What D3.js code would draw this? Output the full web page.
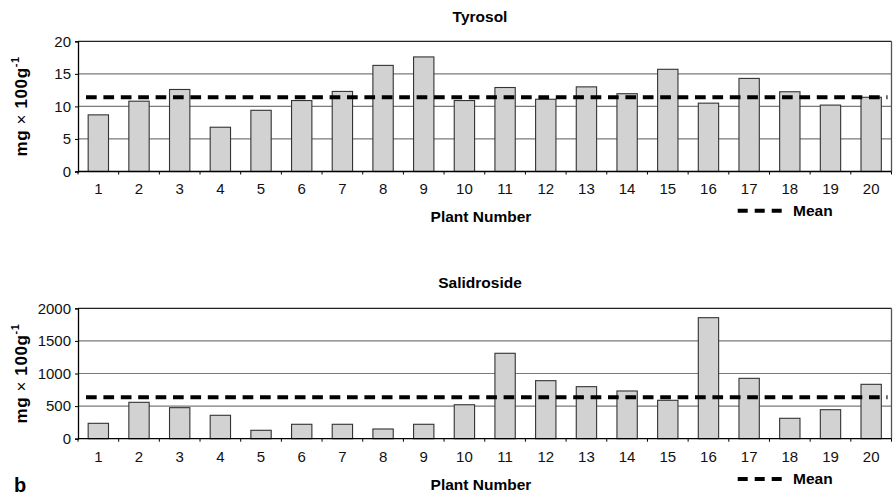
<!DOCTYPE html>
<html><head><meta charset="utf-8">
<script src="https://cdn.jsdelivr.net/npm/d3@7"></script>
<style>body{margin:0;background:#fff}svg{display:block;font-family:"Liberation Sans",Arial,sans-serif}</style>
</head><body>
<script>
const plants = ["1","2","3","4","5","6","7","8","9","10","11","12","13","14","15","16","17","18","19","20"];
const tyrosol = [8.7,10.8,12.6,6.8,9.4,10.9,12.3,16.3,17.6,10.9,12.9,11.1,13.0,11.95,15.7,10.5,14.3,12.25,10.2,11.4];
const tyrosolMean = 11.4;
const tyrosolTicks = [0,5,10,15,20];
const salidroside = [236,558,476,359,129,221,221,149,221,521,1310,890,798,732,589,1856,926,313,445,834];
const salidrosideMean = 635;
const salidrosideTicks = [0,500,1000,1500,2000];

const W = 893, H = 496;
const FONT = "Liberation Sans, Arial, sans-serif";
const svg = d3.select("body").append("svg").attr("width", W).attr("height", H);

function panel(opts) {
  const {title, values, mean, ticks, top, bottom, titleY, xLabelY, legendY, tickLabelY} = opts;
  const left = 78, right = 891.5;
  const x = d3.scaleBand().domain(plants).range([left, right]).paddingInner(0.5).paddingOuter(0.25);
  const y = d3.scaleLinear().domain([0, ticks[ticks.length-1]]).range([bottom, top]);
  const g = svg.append("g");
  g.selectAll(".grid").data(ticks.slice(1, -1)).join("line")
    .attr("x1", left).attr("x2", right).attr("y1", d => y(d)).attr("y2", d => y(d))
    .attr("stroke", "#7a7a7a").attr("stroke-width", 1.2);
  g.append("line").attr("x1", left).attr("x2", right).attr("y1", y(ticks[ticks.length-1])).attr("y2", y(ticks[ticks.length-1])).attr("stroke", "#222").attr("stroke-width", 1.3);
  g.append("line").attr("x1", right).attr("x2", right).attr("y1", top).attr("y2", bottom).attr("stroke", "#555").attr("stroke-width", 1.3);
  g.selectAll(".bar").data(values).join("rect")
    .attr("x", (d,i) => x(plants[i])).attr("width", x.bandwidth())
    .attr("y", d => y(d)).attr("height", d => bottom - y(d))
    .attr("fill", "#d2d2d2").attr("stroke", "#333").attr("stroke-width", 1.1);
  g.append("line").attr("x1", left + 8).attr("x2", right - 4).attr("y1", y(mean)).attr("y2", y(mean))
    .attr("stroke", "#000").attr("stroke-width", 4).attr("stroke-dasharray", "10.7,6.7");
  const ya = g.append("g").attr("transform", `translate(${left},0)`)
    .call(d3.axisLeft(y).tickValues(ticks).tickFormat(d3.format("d")).tickSize(3).tickPadding(4));
  ya.select(".domain").attr("stroke", "#000").attr("stroke-width", 1.3);
  ya.selectAll("text").attr("font-size", 15).attr("fill", "#111").attr("font-family", FONT);
  const xa = g.append("g").attr("transform", `translate(0,${bottom})`)
    .call(d3.axisBottom(x).tickSize(0).tickPadding(0));
  xa.select(".domain").remove();
  xa.append("line").attr("x1", left).attr("x2", right).attr("stroke", "#000").attr("stroke-width", 1.3);
  xa.selectAll(".tick text").attr("y", tickLabelY - bottom).attr("dy", "0.35em")
    .attr("font-size", 15).attr("fill", "#111").attr("font-family", FONT);
  const bounds = plants.map(p => x(p) - x.step()*x.paddingInner()/2);
  bounds.push(right);
  xa.selectAll(".bt").data(bounds).join("line").attr("x1", d => d).attr("x2", d => d).attr("y1", 0).attr("y2", 3).attr("stroke", "#000");
  g.append("text").attr("x", 480).attr("y", titleY).attr("dy", "0.35em").attr("text-anchor", "middle")
    .attr("font-weight", "bold").attr("font-size", 15.5).text(title);
  g.append("text").attr("x", 481).attr("y", xLabelY).attr("dy", "0.35em").attr("text-anchor", "middle")
    .attr("font-weight", "bold").attr("font-size", 15.5).text("Plant Number");
  const yl = g.append("text").attr("transform", `translate(21,${(top+bottom)/2}) rotate(-90)`)
    .attr("text-anchor", "middle").attr("dy", "0.35em").attr("font-weight", "bold").attr("font-size", 17)
    .attr("letter-spacing", 0.6);
  yl.append("tspan").text("mg ");
  yl.append("tspan").attr("font-weight", "normal").text("×");
  yl.append("tspan").text(" 100g");
  yl.append("tspan").attr("dy", "-0.7em").attr("font-size", 11).text("-1");
  g.append("line").attr("x1", 737.7).attr("x2", 781.7).attr("y1", legendY).attr("y2", legendY)
    .attr("stroke", "#000").attr("stroke-width", 4).attr("stroke-dasharray", "10,7");
  g.append("text").attr("x", 793).attr("y", legendY).attr("dy", "0.35em").attr("font-weight", "bold").attr("font-size", 15.5).text("Mean");
}

panel({title: "Tyrosol", values: tyrosol, mean: tyrosolMean, ticks: tyrosolTicks,
  top: 41.3, bottom: 171.5, titleY: 16.5, xLabelY: 217, legendY: 210.7, tickLabelY: 189});
panel({title: "Salidroside", values: salidroside, mean: salidrosideMean, ticks: salidrosideTicks,
  top: 308.3, bottom: 438.7, titleY: 282.7, xLabelY: 485, legendY: 479, tickLabelY: 456.7});

svg.append("text").attr("x", 14).attr("y", 491.5).attr("font-weight", "bold").attr("font-size", 20).text("b");
</script>
</body></html>
